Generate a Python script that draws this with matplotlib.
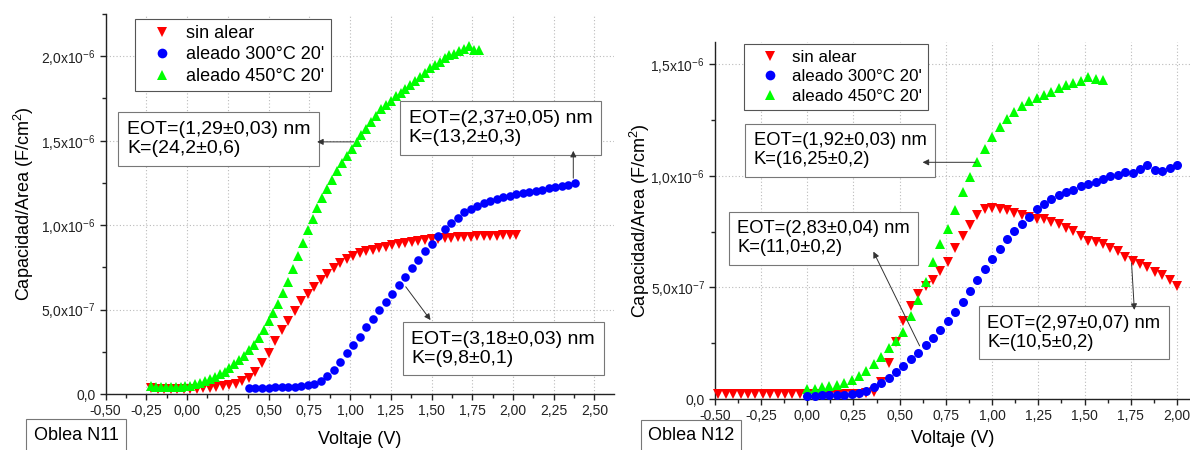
import matplotlib
matplotlib.use('Agg')
import matplotlib.pyplot as plt
from matplotlib.ticker import FixedLocator, FuncFormatter
from matplotlib.lines import Line2D
import math

plt.rcParams['font.family'] = ['Liberation Sans', 'DejaVu Sans']
plt.rcParams['mathtext.fontset'] = 'custom'
plt.rcParams['mathtext.rm'] = 'Liberation Sans'
plt.rcParams['mathtext.it'] = 'Liberation Sans:italic'
plt.rcParams['mathtext.bf'] = 'Liberation Sans:bold'

# ---------------- data: Oblea N11 ----------------
n11_sin_x = [-0.22, -0.18, -0.14, -0.10, -0.06, -0.02, 0.02, 0.06, 0.10, 0.14,
             0.18, 0.22, 0.26, 0.30, 0.34, 0.38, 0.42, 0.46, 0.50, 0.54,
             0.58, 0.62, 0.66, 0.70, 0.74, 0.78, 0.82, 0.86, 0.90, 0.94,
             0.98, 1.02, 1.06, 1.10, 1.14, 1.18, 1.22, 1.26, 1.30, 1.34,
             1.38, 1.42, 1.46, 1.50, 1.54, 1.58, 1.62, 1.66, 1.70, 1.74,
             1.78, 1.82, 1.86, 1.90, 1.94, 1.98, 2.02]
n11_sin_y = [0.35, 0.30, 0.28, 0.27, 0.27, 0.28, 0.30, 0.32, 0.35, 0.38,
             0.42, 0.47, 0.53, 0.60, 0.75, 0.95, 1.30, 1.85, 2.40, 3.15,
             3.80, 4.35, 4.90, 5.50, 5.95, 6.35, 6.75, 7.10, 7.45, 7.75,
             8.00, 8.20, 8.35, 8.45, 8.55, 8.65, 8.72, 8.80, 8.88, 8.95,
             9.00, 9.05, 9.10, 9.15, 9.18, 9.21, 9.24, 9.27, 9.30, 9.32,
             9.34, 9.36, 9.37, 9.38, 9.39, 9.40, 9.42]  # x1e-7

n11_300_x = [0.38, 0.42, 0.46, 0.50, 0.54, 0.58, 0.62, 0.66, 0.70, 0.74,
             0.78, 0.82, 0.86, 0.90, 0.94, 0.98, 1.02, 1.06, 1.10, 1.14,
             1.18, 1.22, 1.26, 1.30, 1.34, 1.38, 1.42, 1.46, 1.50, 1.54,
             1.58, 1.62, 1.66, 1.70, 1.74, 1.78, 1.82, 1.86, 1.90, 1.94,
             1.98, 2.02, 2.06, 2.10, 2.14, 2.18, 2.22, 2.26, 2.30, 2.34, 2.38]
n11_300_y = [0.035, 0.036, 0.037, 0.038, 0.039, 0.040, 0.042, 0.044, 0.047, 0.052,
             0.062, 0.080, 0.105, 0.145, 0.190, 0.240, 0.290, 0.340, 0.395, 0.445,
             0.495, 0.545, 0.595, 0.645, 0.695, 0.745, 0.795, 0.845, 0.890, 0.935,
             0.975, 1.010, 1.045, 1.075, 1.095, 1.115, 1.130, 1.142, 1.155, 1.165,
             1.175, 1.183, 1.190, 1.197, 1.204, 1.211, 1.218, 1.225, 1.232, 1.240, 1.250]  # x1e-6

n11_450_x = [-0.22, -0.19, -0.16, -0.13, -0.10, -0.07, -0.04, -0.01, 0.02, 0.05,
             0.08, 0.11, 0.14, 0.17, 0.20, 0.23, 0.26, 0.29, 0.32, 0.35,
             0.38, 0.41, 0.44, 0.47, 0.50, 0.53, 0.56, 0.59, 0.62, 0.65,
             0.68, 0.71, 0.74, 0.77, 0.80, 0.83, 0.86, 0.89, 0.92, 0.95,
             0.98, 1.01, 1.04, 1.07, 1.10, 1.13, 1.16, 1.19, 1.22, 1.25,
             1.28, 1.31, 1.34, 1.37, 1.40, 1.43, 1.46, 1.49, 1.52, 1.55,
             1.58, 1.61, 1.64, 1.67, 1.70, 1.73, 1.76, 1.79]
n11_450_y = [0.045, 0.044, 0.043, 0.043, 0.043, 0.043, 0.044, 0.046, 0.050, 0.058,
             0.068, 0.079, 0.091, 0.103, 0.117, 0.133, 0.152, 0.175, 0.200, 0.228,
             0.258, 0.292, 0.333, 0.382, 0.435, 0.480, 0.535, 0.600, 0.665, 0.740,
             0.820, 0.895, 0.970, 1.035, 1.100, 1.160, 1.215, 1.270, 1.320, 1.368,
             1.410, 1.450, 1.495, 1.535, 1.572, 1.608, 1.645, 1.685, 1.712, 1.735,
             1.762, 1.785, 1.805, 1.828, 1.852, 1.878, 1.902, 1.928, 1.950, 1.968,
             1.990, 2.005, 2.015, 2.030, 2.045, 2.060, 2.040, 2.040]  # x1e-6

# ---------------- data: Oblea N12 ----------------
n12_sin_x = [-0.48, -0.44, -0.40, -0.36, -0.32, -0.28, -0.24, -0.20, -0.16, -0.12,
             -0.08, -0.04, 0.00, 0.04, 0.08, 0.12, 0.16, 0.20, 0.24, 0.28,
             0.32, 0.36, 0.40, 0.44, 0.48, 0.52, 0.56, 0.60, 0.64, 0.68,
             0.72, 0.76, 0.80, 0.84, 0.88, 0.92, 0.96, 1.00, 1.04, 1.08,
             1.12, 1.16, 1.20, 1.24, 1.28, 1.32, 1.36, 1.40, 1.44, 1.48,
             1.52, 1.56, 1.60, 1.64, 1.68, 1.72, 1.76, 1.80, 1.84, 1.88,
             1.92, 1.96, 2.00]
n12_sin_y = [0.022, 0.022, 0.022, 0.022, 0.022, 0.022, 0.022, 0.022, 0.022, 0.022,
             0.022, 0.023, 0.022, 0.021, 0.020, 0.020, 0.020, 0.021, 0.022, 0.024,
             0.027, 0.031, 0.075, 0.160, 0.255, 0.350, 0.415, 0.470, 0.505, 0.535,
             0.575, 0.615, 0.675, 0.730, 0.780, 0.822, 0.850, 0.856, 0.852, 0.845,
             0.832, 0.822, 0.815, 0.808, 0.805, 0.792, 0.785, 0.767, 0.752, 0.732,
             0.708, 0.705, 0.695, 0.678, 0.662, 0.635, 0.617, 0.606, 0.592, 0.570,
             0.556, 0.535, 0.505]  # x1e-6

n12_300_x = [0.00, 0.04, 0.08, 0.12, 0.16, 0.20, 0.24, 0.28, 0.32, 0.36,
             0.40, 0.44, 0.48, 0.52, 0.56, 0.60, 0.64, 0.68, 0.72, 0.76,
             0.80, 0.84, 0.88, 0.92, 0.96, 1.00, 1.04, 1.08, 1.12, 1.16,
             1.20, 1.24, 1.28, 1.32, 1.36, 1.40, 1.44, 1.48, 1.52, 1.56,
             1.60, 1.64, 1.68, 1.72, 1.76, 1.80, 1.84, 1.88, 1.92, 1.96, 2.00]
n12_300_y = [0.015, 0.015, 0.016, 0.017, 0.018, 0.020, 0.023, 0.028, 0.038, 0.053,
             0.072, 0.095, 0.120, 0.148, 0.177, 0.207, 0.240, 0.275, 0.310, 0.348,
             0.390, 0.435, 0.483, 0.535, 0.580, 0.628, 0.672, 0.715, 0.752, 0.785,
             0.815, 0.850, 0.873, 0.895, 0.912, 0.926, 0.938, 0.952, 0.963, 0.972,
             0.986, 0.998, 1.003, 1.018, 1.012, 1.030, 1.046, 1.025, 1.020, 1.033, 1.046]  # x1e-6

n12_450_x = [0.00, 0.04, 0.08, 0.12, 0.16, 0.20, 0.24, 0.28, 0.32, 0.36,
             0.40, 0.44, 0.48, 0.52, 0.56, 0.60, 0.64, 0.68, 0.72, 0.76,
             0.80, 0.84, 0.88, 0.92, 0.96, 1.00, 1.04, 1.08, 1.12, 1.16,
             1.20, 1.24, 1.28, 1.32, 1.36, 1.40, 1.44, 1.48, 1.52, 1.56, 1.60]
n12_450_y = [0.045, 0.047, 0.052, 0.058, 0.064, 0.072, 0.085, 0.103, 0.127, 0.157,
             0.190, 0.228, 0.262, 0.300, 0.372, 0.445, 0.525, 0.615, 0.695, 0.760,
             0.845, 0.925, 0.995, 1.060, 1.120, 1.175, 1.218, 1.255, 1.284, 1.310,
             1.333, 1.350, 1.360, 1.375, 1.392, 1.404, 1.416, 1.424, 1.442, 1.434, 1.430]  # x1e-6

series_labels = ["sin alear", "aleado 300\u00b0C 20'", "aleado 450\u00b0C 20'"]
series_colors = ['#FF0000', '#0000FF', '#00FF00']
series_markers = ['v', 'o', '^']

x_ticks_major = [-0.50, -0.25, 0.00, 0.25, 0.50, 0.75, 1.00, 1.25, 1.50, 1.75, 2.00, 2.25, 2.50]
n11_yticks = [0.0, 5e-7, 1e-6, 1.5e-6, 2e-6]
n12_yticks = [0.0, 5e-7, 1e-6, 1.5e-6]

n11_notes = ["EOT=(1,29\u00b10,03) nm\nK=(24,2\u00b10,6)",
             "EOT=(2,37\u00b10,05) nm\nK=(13,2\u00b10,3)",
             "EOT=(3,18\u00b10,03) nm\nK=(9,8\u00b10,1)"]
n12_notes = ["EOT=(1,92\u00b10,03) nm\nK=(16,25\u00b10,2)",
             "EOT=(2,83\u00b10,04) nm\nK=(11,0\u00b10,2)",
             "EOT=(2,97\u00b10,07) nm\nK=(10,5\u00b10,2)"]

# ---------------- layout ----------------
n11_note_pos = [(-0.368, 1.509e-6), (1.360, 1.574e-6), (1.377, 0.268e-6)]
n11_arrows = [((1.022, 1.493e-6), (0.798, 1.493e-6)),
              ((2.370, 1.278e-6), (2.370, 1.440e-6)),
              ((1.342, 0.635e-6), (1.494, 0.438e-6))]
n12_note_pos = [(-0.290, 1.113e-6), (-0.3775, 0.719e-6), (0.973, 0.297e-6)]
n12_arrows = [((0.910, 1.060e-6), (0.624, 1.060e-6)),
              ((0.608, 0.238e-6), (0.358, 0.660e-6)),
              ((1.754, 0.609e-6), (1.769, 0.399e-6))]


def xfmt(v, pos):
    s = f"{v:.2f}".replace('.', ',')
    if s == "-0,00":
        s = "0,00"
    return s


def yfmt(v, pos):
    if abs(v) < 1e-15:
        return "0,0"
    e = int(math.floor(math.log10(abs(v)) + 1e-9))
    m = v / 10 ** e
    return f"{m:.1f}".replace('.', ',') + "x10$^{" + str(e) + "}$"


fig = plt.figure(figsize=(11.9, 4.5), dpi=100)
axL = fig.add_axes([0.0887, 0.1244, 0.4273, 0.8444])
axR = fig.add_axes([0.6006, 0.1133, 0.3994, 0.794])

panels = [
    (axL, [(n11_sin_x, [v * 1e-7 for v in n11_sin_y]),
           (n11_300_x, [v * 1e-6 for v in n11_300_y]),
           (n11_450_x, [v * 1e-6 for v in n11_450_y])],
     (-0.5, 2.62), (0, 2.25e-6), n11_yticks, n11_notes, n11_note_pos, n11_arrows,
     13, 14, (7.0, 6.2), (0.058, 0.988)),
    (axR, [(n12_sin_x, [v * 1e-6 for v in n12_sin_y]),
           (n12_300_x, [v * 1e-6 for v in n12_300_y]),
           (n12_450_x, [v * 1e-6 for v in n12_450_y])],
     (-0.5, 2.07), (0, 1.6e-6), n12_yticks, n12_notes, n12_note_pos, n12_arrows,
     12.2, 13.2, (7.3, 6.5), (0.062, 0.993)),
]

for ax, data, xl, yl, yt, notes, npos, arrows, lfs, nfs, ms, lanchor in panels:
    order = [0, 2, 1]
    for i in order:
        xs, ys = data[i]
        size = ms[1] if series_markers[i] == 'o' else ms[0]
        ax.plot(xs, ys, linestyle='none', marker=series_markers[i], color=series_colors[i],
                markersize=size, markeredgewidth=0, zorder=3 + (1 if i == 1 else 0), clip_on=False)
    ax.set_xlim(*xl)
    ax.set_ylim(*yl)
    ax.spines['top'].set_visible(False)
    ax.spines['right'].set_visible(False)
    for sp in ('left', 'bottom'):
        ax.spines[sp].set_linewidth(1.0)
        ax.spines[sp].set_color('#222222')
    ax.xaxis.set_major_locator(FixedLocator([t for t in x_ticks_major if t <= xl[1] + 1e-9]))
    ax.xaxis.set_minor_locator(FixedLocator([-0.5 + 0.125 * k for k in range(25) if -0.5 + 0.125 * k <= xl[1]]))
    ax.xaxis.set_major_formatter(FuncFormatter(xfmt))
    ax.yaxis.set_major_locator(FixedLocator(yt))
    ax.yaxis.set_minor_locator(FixedLocator([2.5e-7 + 5e-7 * k for k in range(5) if 2.5e-7 + 5e-7 * k <= yl[1]]))
    ax.yaxis.set_major_formatter(FuncFormatter(yfmt))
    ax.tick_params(axis='both', which='major', direction='out', length=4, width=1.0,
                   labelsize=10, pad=3, colors='#222222')
    ax.tick_params(axis='both', which='minor', direction='out', length=3, width=1.0, colors='#222222')
    ax.grid(True, which='major', linestyle=(0, (1, 2)), color='#bbbbbb', linewidth=0.8, zorder=0)
    ax.set_axisbelow(True)
    ax.set_xlabel('Voltaje (V)', fontsize=13)
    ax.set_ylabel('Capacidad/Area (F/cm$^2$)', fontsize=13)

    handles = [Line2D([], [], linestyle='none', marker=series_markers[i], color=series_colors[i],
                      markersize=7, markeredgewidth=0) for i in range(3)]
    leg = ax.legend(handles, series_labels, loc='upper left', fontsize=lfs,
                    bbox_to_anchor=lanchor, borderaxespad=0, fancybox=False,
                    framealpha=1, edgecolor='#555555', handlelength=2.3, handletextpad=0.18,
                    labelspacing=0.25, borderpad=0.35)
    leg.get_frame().set_linewidth(0.8)
    leg.set_zorder(10)

    for txt, (tx, ty) in zip(notes, npos):
        ax.text(tx, ty, txt, fontsize=nfs, ha='left', va='center', zorder=8,
                linespacing=1.15,
                bbox=dict(boxstyle='square,pad=0.45', facecolor='white', edgecolor='#777777', linewidth=0.8))
    for (tail, head) in arrows:
        ax.annotate('', xy=head, xytext=tail, zorder=9,
                    arrowprops=dict(arrowstyle='-|>', color='#333333', lw=0.7,
                                    mutation_scale=9, shrinkA=0, shrinkB=0))

axL.xaxis.set_label_coords(0.5, -0.097)
axR.xaxis.set_label_coords(0.5, -0.088)
axL.yaxis.set_label_coords(-0.137, 0.5)
axR.yaxis.set_label_coords(-0.132, 0.5)

fig.text(76 / 1190, 1 - 435 / 450, 'Oblea N11', fontsize=13, ha='center', va='center',
         bbox=dict(boxstyle='square,pad=0.4', facecolor='white', edgecolor='#777777', linewidth=0.8))
fig.text(691 / 1190, 1 - 436 / 450, 'Oblea N12', fontsize=13, ha='center', va='center',
         bbox=dict(boxstyle='square,pad=0.4', facecolor='white', edgecolor='#777777', linewidth=0.8))

fig.savefig('out.png', dpi=100)
